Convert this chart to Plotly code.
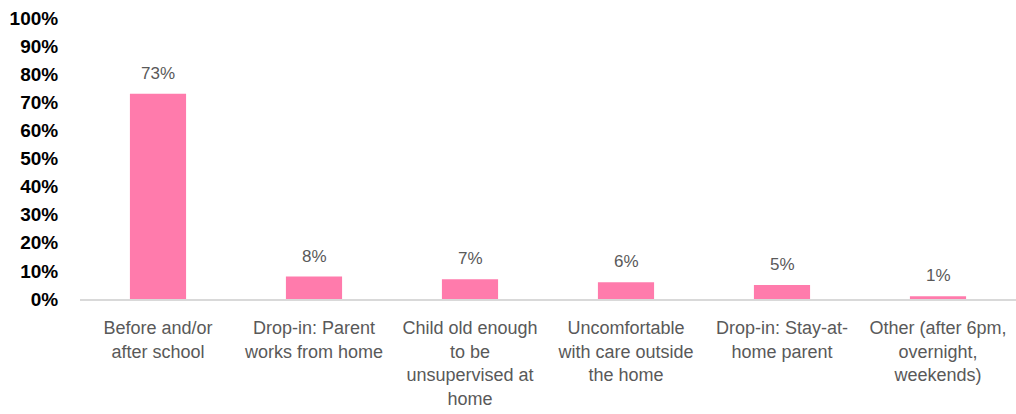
import plotly.graph_objects as go

categories = [
    "Before and/or<br>after school",
    "Drop-in: Parent<br>works from home",
    "Child old enough<br>to be<br>unsupervised at<br>home",
    "Uncomfortable<br>with care outside<br>the home",
    "Drop-in: Stay-at-<br>home parent",
    "Other (after 6pm,<br>overnight,<br>weekends)",
]
values = [0.73, 0.08, 0.07, 0.06, 0.05, 0.01]
value_labels = ["73%", "8%", "7%", "6%", "5%", "1%"]
y_ticks = [0, 0.1, 0.2, 0.3, 0.4, 0.5, 0.6, 0.7, 0.8, 0.9, 1.0]
y_tick_labels = ["0%", "10%", "20%", "30%", "40%", "50%", "60%", "70%", "80%", "90%", "100%"]

FONT = "Liberation Sans"

fig = go.Figure(
    go.Bar(
        x=categories,
        y=values,
        marker=dict(color="#FF7BAC", line=dict(width=0)),
        cliponaxis=False,
        hoverinfo="skip",
    )
)

for cat, val, lab in zip(categories, values, value_labels):
    fig.add_annotation(
        x=cat, y=val, text=lab, showarrow=False,
        yanchor="bottom", yshift=9,
        font=dict(family=FONT, size=17, color="#595959"),
    )

fig.update_layout(
    width=1016,
    height=414,
    margin=dict(l=80, r=0, t=18, b=115),
    paper_bgcolor="white",
    plot_bgcolor="white",
    bargap=0.64,
    showlegend=False,
    font=dict(family=FONT),
)
fig.update_xaxes(
    range=[-0.5, 5.5],
    automargin=False,
    showline=True,
    linecolor="#D9D9D9",
    linewidth=1.5,
    showgrid=False,
    ticks="outside",
    ticklen=12,
    tickcolor="rgba(0,0,0,0)",
    tickfont=dict(family=FONT, size=18, color="#595959"),
)
fig.update_yaxes(
    range=[0, 1.0],
    automargin=False,
    tickvals=y_ticks,
    ticktext=y_tick_labels,
    showgrid=False,
    zeroline=False,
    showline=False,
    ticks="outside",
    ticklen=17,
    tickcolor="rgba(0,0,0,0)",
    tickfont=dict(family=FONT, size=19, color="#000000", weight="bold"),
)

fig.write_html(
    "out.html",
    config={"displayModeBar": False},
    post_script="document.body.style.margin='0';document.body.style.overflow='hidden';",
)
